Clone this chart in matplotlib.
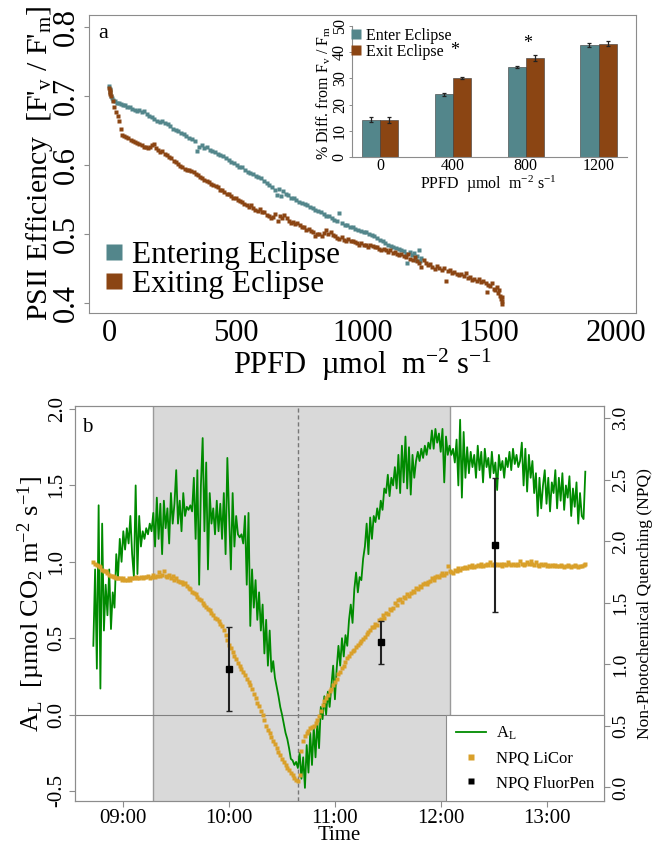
import numpy as np
import pandas as pd
import matplotlib
matplotlib.use("Agg")
import matplotlib.pyplot as plt
import matplotlib.dates as mdates
from matplotlib.lines import Line2D
from matplotlib.ticker import FormatStrFormatter

# -------------------------------
# Panel a: PSII efficiency vs PPFD
# -------------------------------
enter_ppfd = [0, 2, 4, 6, 10, 15, 22, 29, 37, 45, 54, 63, 72, 81, 90, 100, 110, 119, 129, 139,
              148, 158, 168, 177, 188, 199, 209, 220, 231, 241, 252, 263, 273, 284, 295, 305, 316, 327, 338, 347,
              354, 365, 375, 386, 397, 407, 418, 429, 439, 450, 461, 471, 482, 493, 504, 514, 525, 535, 546, 557,
              567, 578, 589, 599, 610, 621, 632, 642, 653, 664, 671, 679, 687, 697, 707, 718, 729, 739, 750, 761,
              771, 782, 793, 803, 814, 825, 835, 846, 857, 867, 878, 889, 899, 908, 919, 929, 940, 951, 961, 972,
              983, 994, 1004, 1015, 1026, 1036, 1047, 1058, 1068, 1079, 1090, 1100, 1111, 1122, 1133, 1143, 1154, 1164, 1172, 1177,
              1186, 1195, 1205, 1212, 1217, 1224, 1228, 1232]
enter_eff = [.714, .710, .705, .700, .697, .694, .692, .690, .689, .688, .686, .687, .684, .683, .681, .680, .678, .679, .677, .678,
             .674, .671, .669, .666, .664, .662, .663, .660, .659, .656, .652, .650, .649, .646, .644, .641, .639, .637, .635, .620,
             .626, .628, .624, .625, .622, .620, .618, .616, .614, .613, .609, .607, .604, .602, .600, .597, .596, .592, .590, .588,
             .586, .584, .582, .580, .577, .573, .570, .568, .563, .556, .565, .554, .562, .558, .556, .552, .551, .549, .546, .545,
             .543, .541, .538, .537, .535, .533, .531, .528, .526, .525, .522, .520, .518, .530, .516, .513, .512, .510, .509, .507,
             .506, .504, .503, .502, .500, .498, .496, .494, .491, .489, .487, .484, .482, .481, .479, .478, .476, .475, .470, .458,
             .474, .469, .472, .462, .468, .476, .460, .465]

exit_ppfd = [0, 1, 2, 4, 8, 14, 20, 26, 33, 40, 46, 52, 60, 68, 75, 84, 93, 102, 110, 119,
             128, 137, 145, 153, 161, 169, 176, 184, 193, 202, 210, 219, 228, 237, 245, 254, 263, 271, 280, 289,
             298, 306, 315, 324, 333, 341, 350, 359, 368, 376, 385, 394, 402, 411, 420, 429, 437, 446, 455, 464,
             472, 481, 490, 499, 507, 516, 525, 534, 542, 551, 560, 568, 577, 586, 595, 603, 612, 621, 630, 638,
             647, 656, 665, 673, 682, 691, 700, 708, 717, 726, 735, 743, 752, 761, 770, 778, 787, 796, 804, 813,
             822, 830, 839, 848, 857, 865, 874, 883, 892, 900, 909, 918, 927, 935, 944, 953, 961, 970, 979, 988,
             996, 1005, 1014, 1023, 1031, 1040, 1049, 1058, 1066, 1075, 1084, 1093, 1101, 1110, 1119, 1128, 1137, 1145, 1154, 1163,
             1171, 1180, 1189, 1198, 1206, 1215, 1224, 1232, 1241, 1249, 1258, 1267, 1276, 1285, 1294, 1303, 1312, 1320, 1328, 1336,
             1345, 1354, 1363, 1372, 1381, 1390, 1399, 1407, 1416, 1425, 1433, 1442, 1451, 1460, 1468, 1477, 1486, 1490, 1495, 1503,
             1512, 1518, 1524, 1530, 1536, 1540, 1544, 1547, 1550, 1552, 1549]
exit_eff = [.711, .708, .705, .702, .699, .693, .684, .677, .670, .664, .652, .643, .641, .640, .638, .636, .634, .633, .631, .630,
            .628, .626, .625, .624, .626, .628, .630, .624, .622, .619, .620, .616, .614, .611, .610, .606, .604, .601, .598, .597,
            .594, .593, .592, .591, .590, .587, .585, .582, .580, .578, .576, .575, .572, .570, .569, .567, .564, .563, .560, .558,
            .557, .554, .552, .551, .549, .547, .546, .543, .542, .539, .541, .537, .535, .533, .536, .531, .532, .527, .526, .522,
            .524, .528, .519, .526, .523, .527, .522, .519, .516, .517, .514, .515, .512, .509, .510, .506, .507, .504, .503, .496,
            .500, .499, .497, .501, .505, .500, .503, .498, .496, .494, .493, .495, .491, .490, .492, .489, .490, .488, .487, .484,
            .486, .483, .484, .481, .484, .482, .480, .481, .478, .477, .478, .476, .474, .476, .472, .474, .470, .469, .471, .468,
            .466, .470, .464, .462, .466, .460, .458, .452, .462, .458, .455, .456, .452, .449, .453, .450, .447, .450, .431, .446,
            .448, .443, .445, .441, .440, .442, .438, .443, .436, .437, .433, .435, .431, .434, .430, .432, .428, .416, .426, .424,
            .428, .420, .418, .422, .414, .418, .410, .406, .402, .408, .398]

# inset bars
bar_groups = ["0", "400", "800", "1200"]
bar_enter = [14.2, 24.0, 34.2, 42.8]
bar_enter_err = [0.9, 0.6, 0.4, 0.7]
bar_exit = [14.1, 30.1, 37.7, 43.3]
bar_exit_err = [1.2, 0.5, 1.1, 1.0]
star_groups = [1, 2]
star_height = [40.8, 43.2]

# -------------------------------
# Panel b: A_L and NPQ over time (1 value per minute from 08:43)
# -------------------------------
a_l = [
    0.45, 0.95, 0.30, 1.37, 0.17, 1.25, 0.55, 0.85, 0.65, 0.95,   # 08:43
    0.56, 0.80, 0.70, 1.05, 0.90, 1.15, 1.00, 1.20, 1.08, 1.22,   # 08:53
    1.12, 1.30, 1.05, 0.90, 1.50, 0.92, 1.30, 1.10, 1.20, 1.15,   # 09:03
    1.22, 1.18, 1.25, 1.20, 1.32, 1.10, 1.42, 1.15, 1.38, 1.05,   # 09:13
    1.40, 1.22, 1.35, 1.12, 1.45, 1.25, 1.38, 1.60, 1.25, 1.40,   # 09:23
    1.20, 1.45, 1.30, 1.36, 1.34, 1.37, 1.33, 1.55, 1.15, 1.60,   # 09:33
    0.85, 1.50, 1.81, 1.20, 1.65, 0.95, 1.45, 1.25, 1.35, 1.18,   # 09:43
    1.40, 1.20, 1.38, 1.15, 1.45, 1.05, 1.68, 1.30, 0.95, 1.45,   # 09:53
    1.10, 1.30, 1.18, 1.16, 1.18, 1.12, 1.30, 0.85, 1.32, 0.58,   # 10:03
    0.95, 0.70, 0.88, 0.62, 0.80, 0.55, 0.72, 0.40, 0.62, 0.32,   # 10:13
    0.55, 0.28, 0.35, 0.24, 0.18, 0.12, 0.05, 0.00, -0.06, -0.12,  # 10:23
    -0.16, -0.22, -0.29, -0.30, -0.33, -0.31, -0.35, -0.25, -0.42, -0.28,  # 10:33
    -0.48, -0.20, -0.38, -0.12, -0.33, -0.08, -0.28, -0.05, -0.22, 0.05,  # 10:43
    -0.03, 0.12, 0.00, 0.15, 0.05, 0.19, 0.32, 0.10, 0.30, 0.45,  # 10:53
    0.32, 0.50, 0.38, 0.52, 0.45, 0.62, 0.72, 0.60, 0.82, 0.93,   # 11:03
    0.80, 0.90, 0.88, 1.02, 1.10, 1.25, 1.05, 1.29, 1.15, 1.30,   # 11:13
    1.26, 1.35, 1.28, 1.40, 1.34, 1.48, 1.45, 1.57, 1.43, 1.55,   # 11:23
    1.50, 1.62, 1.48, 1.70, 1.45, 1.76, 1.52, 1.82, 1.48, 1.75,   # 11:33
    1.44, 1.70, 1.55, 1.66, 1.72, 1.66, 1.74, 1.68, 1.76, 1.70,   # 11:43
    1.78, 1.74, 1.86, 1.74, 1.87, 1.78, 1.84, 1.72, 1.87, 1.52,   # 11:53
    1.82, 1.70, 1.76, 1.70, 1.74, 1.65, 1.80, 1.50, 1.93, 1.42,   # 12:03
    1.85, 1.55, 1.75, 1.58, 1.72, 1.62, 1.70, 1.55, 1.76, 1.60,   # 12:13
    1.72, 1.52, 1.74, 1.62, 1.68, 1.55, 1.72, 1.58, 1.65, 1.47,   # 12:23
    1.70, 1.60, 1.66, 1.55, 1.68, 1.62, 1.72, 1.60, 1.74, 1.64,   # 12:33
    1.70, 1.62, 1.66, 1.78, 1.50, 1.74, 1.46, 1.70, 1.55, 1.66,   # 12:43
    1.45, 1.58, 1.30, 1.55, 1.35, 1.50, 1.60, 1.38, 1.55, 1.33,   # 12:53
    1.52, 1.45, 1.60, 1.35, 1.55, 1.40, 1.58, 1.34, 1.50, 1.42,   # 13:03
    1.56, 1.30, 1.48, 1.36, 1.52, 1.25, 1.45, 1.30, 1.28, 1.59,   # 13:13
]

npq_licor = [
    1.83, 1.82, 1.81, 1.80, 1.79, 1.77, 1.76, 1.76, 1.74, 1.73,   # 08:43
    1.72, 1.72, 1.71, 1.70, 1.70, 1.70, 1.69, 1.70, 1.69, 1.69,   # 08:53
    1.70, 1.69, 1.70, 1.70, 1.71, 1.70, 1.70, 1.71, 1.70, 1.71,   # 09:03
    1.71, 1.72, 1.70, 1.71, 1.73, 1.71, 1.72, 1.75, 1.72, 1.73,   # 09:13
    1.76, 1.72, 1.71, 1.73, 1.70, 1.72, 1.69, 1.70, 1.68, 1.67,   # 09:23
    1.67, 1.65, 1.66, 1.64, 1.62, 1.61, 1.59, 1.58, 1.57, 1.55,   # 09:33
    1.53, 1.52, 1.50, 1.48, 1.47, 1.45, 1.44, 1.42, 1.40, 1.38,   # 09:43
    1.37, 1.35, 1.33, 1.31, 1.28, 1.24, 1.20, 1.16, 1.13, 1.10,   # 09:53
    1.07, 1.04, 1.01, 0.99, 0.96, 0.94, 0.91, 0.88, 0.86, 0.83,   # 10:03
    0.80, 0.76, 0.73, 0.69, 0.66, 0.62, 0.59, 0.55, 0.50, 0.47,   # 10:13
    0.44, 0.41, 0.38, 0.35, 0.32, 0.29, 0.26, 0.23, 0.21, 0.18,   # 10:23
    0.16, 0.14, 0.12, 0.10, 0.08, 0.06, 0.05, 0.10, 0.30, 0.38,   # 10:33
    0.42, 0.44, 0.46, 0.48, 0.49, 0.50, 0.52, 0.55, 0.58, 0.62,   # 10:43
    0.67, 0.70, 0.73, 0.75, 0.78, 0.80, 0.83, 0.86, 0.88, 0.92,   # 10:53
    0.94, 0.97, 0.99, 1.02, 1.05, 1.07, 1.09, 1.11, 1.12, 1.14,   # 11:03
    1.16, 1.17, 1.19, 1.21, 1.22, 1.25, 1.26, 1.28, 1.30, 1.30,   # 11:13
    1.33, 1.32, 1.36, 1.37, 1.40, 1.38, 1.42, 1.41, 1.45, 1.44,   # 11:23
    1.46, 1.50, 1.48, 1.52, 1.53, 1.51, 1.55, 1.54, 1.57, 1.56,   # 11:33
    1.58, 1.60, 1.59, 1.62, 1.61, 1.64, 1.63, 1.65, 1.66, 1.65,   # 11:43
    1.67, 1.68, 1.70, 1.69, 1.71, 1.72, 1.71, 1.73, 1.74, 1.73,   # 11:53
    1.74, 1.80, 1.76, 1.75, 1.74, 1.77, 1.76, 1.78, 1.77, 1.78,   # 12:03
    1.78, 1.79, 1.78, 1.80, 1.79, 1.81, 1.79, 1.80, 1.81, 1.80,   # 12:13
    1.82, 1.80, 1.81, 1.82, 1.81, 1.83, 1.81, 1.82, 1.81, 1.82,   # 12:23
    1.81, 1.82, 1.80, 1.82, 1.81, 1.83, 1.82, 1.81, 1.82, 1.81,   # 12:33
    1.82, 1.81, 1.84, 1.82, 1.81, 1.82, 1.83, 1.82, 1.84, 1.82,   # 12:43
    1.81, 1.83, 1.81, 1.80, 1.82, 1.81, 1.82, 1.80, 1.81, 1.80,   # 12:53
    1.81, 1.80, 1.81, 1.80, 1.80, 1.81, 1.80, 1.79, 1.80, 1.81,   # 13:03
    1.80, 1.79, 1.80, 1.81, 1.80, 1.79, 1.80, 1.80, 1.81, 1.82,   # 13:13
]

day = "2017-08-21 "
start_time = day + "08:43"
fp_times = [day + "10:00", day + "11:26", day + "12:31"]
fp_mean = [0.965, 1.18, 1.97]
fp_err = [0.34, 0.175, 0.545]
shade_start = day + "09:17"
shade_end = day + "12:05"
max_eclipse = day + "10:39"
time_ticks = ["09:00", "10:00", "11:00", "12:00", "13:00"]

# -------------------------------
# Stile
# -------------------------------
plt.rcParams['font.family'] = ['Liberation Serif', 'DejaVu Serif']
plt.rcParams['mathtext.fontset'] = 'custom'
plt.rcParams['mathtext.rm'] = 'Liberation Serif'
plt.rcParams['mathtext.it'] = 'Liberation Serif:italic'
plt.rcParams['mathtext.default'] = 'rm'
plt.rcParams['axes.unicode_minus'] = False

TEAL = '#53868B'
BROWN = '#8B4513'
GREEN = '#008B00'
GOLD = '#D9A02A'
FRAME = '#8C8C8C'

W, H = 652, 844
fig = plt.figure(figsize=(W / 100, H / 100), dpi=100)


def px_axes(left, top, right, bottom):
    return [left / W, 1 - bottom / H, (right - left) / W, (bottom - top) / H]


# -------------------------------
# Pannello a
# -------------------------------
ax1 = fig.add_axes(px_axes(89, 15, 636, 313))
ax1.plot(enter_ppfd, enter_eff, 's', ms=2.3, color=TEAL, mec='none')
ax1.plot(exit_ppfd, exit_eff, 's', ms=2.3, color=BROWN, mec='none')
ax1.set_xlim(-80, 2080)
ax1.set_ylim(0.385, 0.817)
ax1.set_xticks([0, 500, 1000, 1500, 2000])
ax1.set_yticks([0.4, 0.5, 0.6, 0.7, 0.8])
ax1.yaxis.set_major_formatter(FormatStrFormatter('%.1f'))
ax1.tick_params(axis='x', length=0, pad=4, labelsize=22)
ax1.tick_params(axis='y', length=3.5, width=0.8, color=FRAME, pad=2, labelsize=22)
for lab in ax1.get_yticklabels():
    lab.set_rotation(90)
    lab.set_va('center')
for sp in ax1.spines.values():
    sp.set_color(FRAME)
ax1.set_ylabel("PSII Efficiency  [F'$_{v}$ / F'$_{m}$]", fontsize=21.5)
ax1.yaxis.set_label_coords(-0.062, 0.5)
ax1.set_xlabel("PPFD  µmol  m$^{-2}$ s$^{-1}$", fontsize=22)
ax1.xaxis.set_label_coords(0.5, -0.115)

leg_handles = [Line2D([], [], ls='', marker='s', ms=11, color=TEAL, mec='none'),
               Line2D([], [], ls='', marker='s', ms=11, color=BROWN, mec='none')]
ax1.legend(leg_handles, ["Entering Eclipse", "Exiting Eclipse"], loc='upper left',
           bbox_to_anchor=(105 / W, 1 - 241 / H), bbox_transform=fig.transFigure,
           frameon=False, fontsize=22.5, handlelength=0.55, handletextpad=0.3,
           labelspacing=0.0, borderpad=0, borderaxespad=0)
fig.text(103 / W, 1 - 33 / H, "a", fontsize=16, ha='center', va='center')

# inset
ax2 = fig.add_axes(px_axes(352, 26, 627, 157))
xg = np.arange(len(bar_groups))
ax2.bar(xg - 0.125, bar_enter, 0.25, color=TEAL, edgecolor='#3A3A3A', linewidth=0.4)
ax2.bar(xg + 0.125, bar_exit, 0.25, color=BROWN, edgecolor='#3A3A3A', linewidth=0.4)
ax2.errorbar(xg - 0.125, bar_enter, yerr=bar_enter_err, fmt='none', ecolor='#222222',
             elinewidth=0.9, capsize=1.5, capthick=0.9)
ax2.errorbar(xg + 0.125, bar_exit, yerr=bar_exit_err, fmt='none', ecolor='#222222',
             elinewidth=0.9, capsize=1.5, capthick=0.9)
for g, h in zip(star_groups, star_height):
    ax2.text(g + 0.02, h, "*", ha='center', va='center', fontsize=13)
ax2.set_xlim(-0.385, 3.39)
ax2.set_ylim(0, 50)
ax2.set_xticks(xg)
ax2.set_xticklabels(bar_groups)
ax2.set_yticks([0, 10, 20, 30, 40, 50])
ax2.tick_params(axis='x', length=0, pad=0.5, labelsize=11.5)
ax2.tick_params(axis='y', length=2.5, width=0.7, color=FRAME, pad=0.5, labelsize=11.5)
for lab in ax2.get_yticklabels():
    lab.set_rotation(90)
    lab.set_va('center')
ax2.spines['top'].set_visible(False)
ax2.spines['right'].set_visible(False)
ax2.spines['left'].set_color(FRAME)
ax2.spines['bottom'].set_color(FRAME)
ax2.patch.set_alpha(0)
ax2.set_ylabel("% Diff. from F$_{v}$ / F$_{m}$", fontsize=11.5)
ax2.yaxis.set_label_coords(-0.068, 0.49)
ax2.set_xlabel("PPFD  µmol  m$^{-2}$ s$^{-1}$", fontsize=11.5)
ax2.xaxis.set_label_coords(0.495, -0.125)
inset_handles = [Line2D([], [], ls='', marker='s', ms=6.5, color=TEAL, mec='none'),
                 Line2D([], [], ls='', marker='s', ms=6.5, color=BROWN, mec='none')]
ax2.legend(inset_handles, ["Enter Eclipse", "Exit Eclipse"], loc='upper left',
           bbox_to_anchor=(352 / W, 1 - 28 / H), bbox_transform=fig.transFigure,
           frameon=False, fontsize=11.5, handlelength=0.5, handletextpad=0.35,
           labelspacing=0.0, borderpad=0, borderaxespad=0)

# -------------------------------
# Pannello b
# -------------------------------
times = pd.date_range(start_time, periods=len(a_l), freq="1min")
ax3 = fig.add_axes(px_axes(75, 406, 604, 801))
ax4 = ax3.twinx()

ax3.axvspan(pd.Timestamp(shade_start), pd.Timestamp(shade_end), color='#D9D9D9', lw=0, zorder=0)
for edge in (shade_start, shade_end):
    ax3.axvline(pd.Timestamp(edge), color='#9A9A9A', lw=1.0, zorder=0.5)
ax3.axvline(pd.Timestamp(max_eclipse), color='#777777', lw=1.0, ls=(0, (3, 2)), zorder=0.6)
ax3.axhline(0, color='#808080', lw=0.8, zorder=0.7)
ax3.plot(times, a_l, color=GREEN, lw=1.3, zorder=2)

ax4.plot(times, npq_licor, 's', ms=2.4, color=GOLD, mec='none')
ax4.errorbar(pd.to_datetime(fp_times), fp_mean, yerr=fp_err, fmt='s', ms=4, color='black',
             ecolor='#222222', elinewidth=1.5, capsize=2.5, capthick=1.0)

ax3.set_xlim(pd.Timestamp(day + "08:32:36"), pd.Timestamp(day + "13:32:36"))
ax3.set_ylim(-0.566, 2.02)
ax4.set_ylim(-0.11, 3.10)
ax3.set_xticks(pd.to_datetime([day + t for t in time_ticks]))
ax3.set_xticklabels(time_ticks)
ax3.set_yticks([-0.5, 0.0, 0.5, 1.0, 1.5, 2.0])
ax4.set_yticks([0.0, 0.5, 1.0, 1.5, 2.0, 2.5, 3.0])
ax3.yaxis.set_major_formatter(FormatStrFormatter('%.1f'))
ax4.yaxis.set_major_formatter(FormatStrFormatter('%.1f'))
ax3.tick_params(axis='x', length=4, width=0.8, color=FRAME, pad=1.5, labelsize=15)
ax3.tick_params(axis='y', length=4, width=0.8, color=FRAME, pad=2, labelsize=15)
ax4.tick_params(axis='y', length=4, width=0.8, color=FRAME, pad=2, labelsize=14)
for lab in ax3.get_yticklabels() + ax4.get_yticklabels():
    lab.set_rotation(90)
    lab.set_va('center')
for a in (ax3, ax4):
    for sp in a.spines.values():
        sp.set_color(FRAME)

ax3.set_ylabel("A$_{L}$  [µmol CO$_{2}$ m$^{-2}$ s$^{-1}$]", fontsize=19)
ax3.yaxis.set_label_coords(-0.053, 0.5)
ax4.set_ylabel("Non-Photochemical Quenching (NPQ)", fontsize=12.5)
ax4.yaxis.set_label_coords(1.062, 0.5)
ax3.set_xlabel("Time", fontsize=15)
ax3.xaxis.set_label_coords(0.5, -0.064)
fig.text(87 / W, 1 - 428 / H, "b", fontsize=15, ha='center', va='center')

b_handles = [Line2D([], [], color=GREEN, lw=1.3),
             Line2D([], [], ls='', marker='s', ms=5, color=GOLD, mec='none'),
             Line2D([], [], ls='', marker='s', ms=5, color='black', mec='none')]
leg = ax4.legend(b_handles, ["A$_{L}$", "NPQ LiCor", "NPQ FluorPen"], loc='lower right',
                 fontsize=12, frameon=True, fancybox=False, edgecolor=FRAME, framealpha=1,
                 borderaxespad=0, handlelength=1.8, handletextpad=0.6, labelspacing=0.5,
                 borderpad=0.6)
leg.get_frame().set_linewidth(0.8)

fig.savefig("out.png", dpi=100)
